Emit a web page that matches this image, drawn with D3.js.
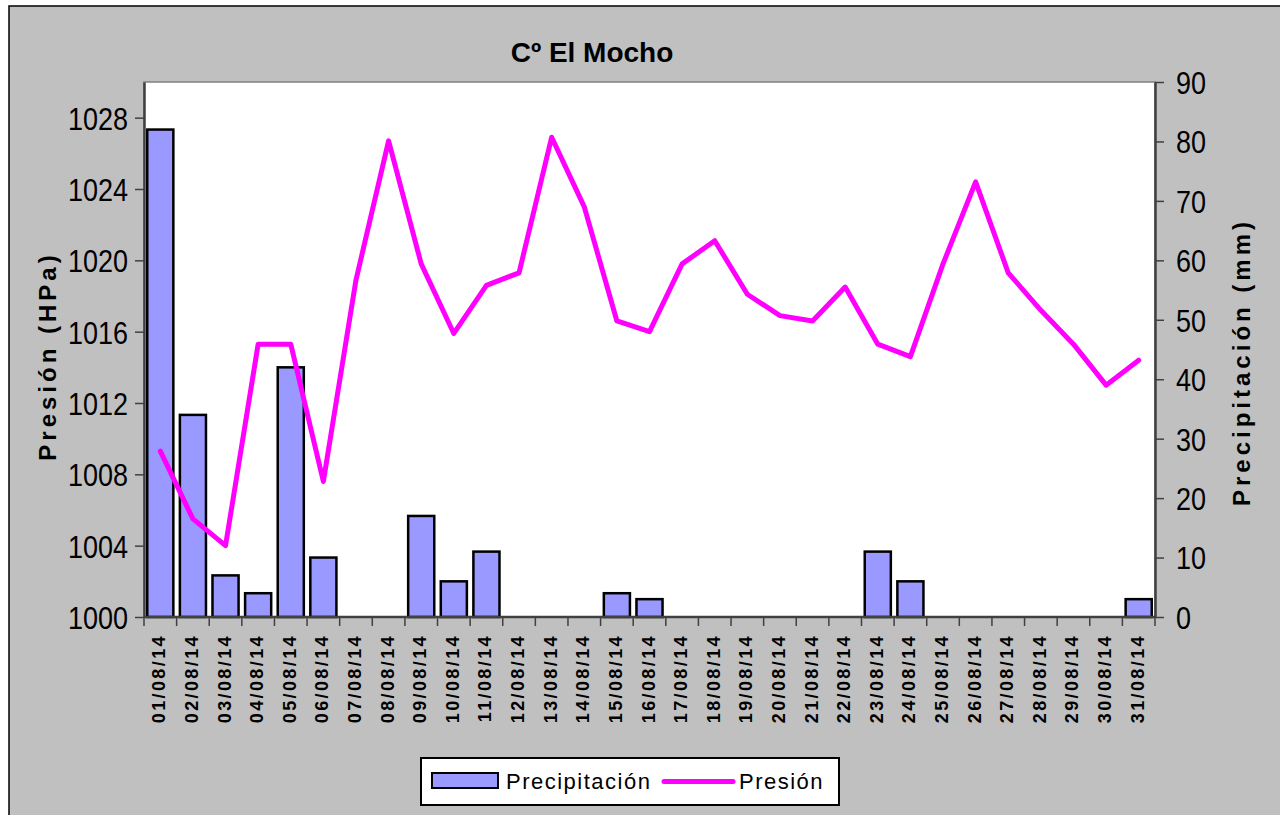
<!DOCTYPE html>
<html>
<head>
<meta charset="utf-8">
<script src="https://cdn.jsdelivr.net/npm/d3@7"></script>
<style>
  body { margin: 0; background: #fff; }
  svg text { font-family: "Liberation Sans", Arial, sans-serif; fill: #000; }
  .tick-label { font-size: 27px; }
  .axis-title { font-size: 24px; font-weight: bold; }
  .date-label { font-size: 18px; letter-spacing: 2.4px; font-weight: bold; }
  .legend-text { font-size: 22px; letter-spacing: 1.5px; }
</style>
</head>
<body>
<div id="chart"></div>
<script>
var dates = ["01/08/14","02/08/14","03/08/14","04/08/14","05/08/14","06/08/14","07/08/14","08/08/14",
  "09/08/14","10/08/14","11/08/14","12/08/14","13/08/14","14/08/14","15/08/14","16/08/14",
  "17/08/14","18/08/14","19/08/14","20/08/14","21/08/14","22/08/14","23/08/14","24/08/14",
  "25/08/14","26/08/14","27/08/14","28/08/14","29/08/14","30/08/14","31/08/14"];
var precipitacion = [82, 34, 7, 4, 42, 10, 0, 0, 17, 6, 11, 0, 0, 0, 4, 3,
  0, 0, 0, 0, 0, 0, 11, 6, 0, 0, 0, 0, 0, 0, 3];
var presion = [1009.3, 1005.5, 1004.0, 1015.3, 1015.3, 1007.6, 1018.9, 1026.7,
  1019.8, 1015.9, 1018.6, 1019.3, 1026.9, 1023.0, 1016.6, 1016.0,
  1019.8, 1021.1, 1018.1, 1016.9, 1016.6, 1018.5, 1015.3, 1014.6,
  1019.8, 1024.4, 1019.3, 1017.2, 1015.3, 1013.0, 1014.4];
var presionTicks = [1000, 1004, 1008, 1012, 1016, 1020, 1024, 1028];
var precipTicks = [0, 10, 20, 30, 40, 50, 60, 70, 80, 90];

var width = 1280, height = 815;
var plotLeft = 144, plotRight = 1155, plotTop = 82, plotBottom = 617;

var svg = d3.select("#chart").append("svg")
    .attr("width", width)
    .attr("height", height);

// chart background
svg.append("rect")
    .attr("x", 9).attr("y", 6)
    .attr("width", width).attr("height", height)
    .attr("fill", "#c0c0c0")
    .attr("stroke", "#000")
    .attr("stroke-width", 1.5);

// plot area
svg.append("rect")
    .attr("x", plotLeft).attr("y", plotTop)
    .attr("width", plotRight - plotLeft).attr("height", plotBottom - plotTop)
    .attr("fill", "#fff")
    .attr("stroke", "#808080")
    .attr("stroke-width", 1.5);

var x = d3.scaleBand().domain(dates).range([plotLeft, plotRight]);
var xBar = d3.scaleBand().domain(dates).range([plotLeft, plotRight])
    .paddingInner(0.2).paddingOuter(0.1);
var yLeft = d3.scaleLinear().domain([1000, 1030]).range([plotBottom, plotTop]);
var yRight = d3.scaleLinear().domain([0, 90]).range([plotBottom, plotTop]);

// bars
svg.append("g").selectAll("rect")
    .data(dates.filter(function(d, i) { return precipitacion[i] > 0; }))
    .join("rect")
    .attr("x", function(d) { return xBar(d); })
    .attr("y", function(d) { return yRight(precipitacion[dates.indexOf(d)]); })
    .attr("width", xBar.bandwidth())
    .attr("height", function(d) { return plotBottom - yRight(precipitacion[dates.indexOf(d)]); })
    .attr("fill", "#9999ff")
    .attr("stroke", "#000")
    .attr("stroke-width", 2.5);

// pressure line
var line = d3.line()
    .x(function(d, i) { return x(dates[i]) + x.bandwidth() / 2; })
    .y(function(d) { return yLeft(d); });

svg.append("path")
    .datum(presion)
    .attr("d", line)
    .attr("fill", "none")
    .attr("stroke", "#ff00ff")
    .attr("stroke-width", 5)
    .attr("stroke-linejoin", "round")
    .attr("stroke-linecap", "round");

// left axis
var leftAxis = svg.append("g")
    .attr("transform", "translate(" + plotLeft + ",0)")
    .call(d3.axisLeft(yLeft).tickValues(presionTicks).tickFormat(d3.format("d"))
      .tickSize(9).tickSizeOuter(0).tickPadding(7));
leftAxis.select(".domain").attr("stroke", "#404040").attr("stroke-width", 2.5);
leftAxis.selectAll(".tick line").attr("stroke", "#404040").attr("stroke-width", 1.5);
leftAxis.selectAll(".tick text").attr("class", "tick-label").attr("font-size", null).attr("font-family", null)
    .attr("dy", "0.36em").attr("transform", "scale(1,1.17)");

// right axis
var rightAxis = svg.append("g")
    .attr("transform", "translate(" + plotRight + ",0)")
    .call(d3.axisRight(yRight).tickValues(precipTicks).tickFormat(d3.format("d"))
      .tickSize(9).tickSizeOuter(0).tickPadding(12));
rightAxis.select(".domain").attr("stroke", "#404040").attr("stroke-width", 2.5);
rightAxis.selectAll(".tick line").attr("stroke", "#404040").attr("stroke-width", 1.5);
rightAxis.selectAll(".tick text").attr("class", "tick-label").attr("font-size", null).attr("font-family", null)
    .attr("dy", "0.36em").attr("transform", "scale(1,1.17)");

// bottom axis: ticks at category boundaries
var bottomAxis = svg.append("g").attr("transform", "translate(0," + plotBottom + ")");
bottomAxis.append("line")
    .attr("x1", plotLeft).attr("x2", plotRight)
    .attr("stroke", "#404040").attr("stroke-width", 2.5);
bottomAxis.selectAll(".btick")
    .data(dates.concat(["end"]))
    .join("line")
    .attr("class", "btick")
    .attr("x1", function(d) { return d === "end" ? plotRight : x(d); })
    .attr("x2", function(d) { return d === "end" ? plotRight : x(d); })
    .attr("y1", 0).attr("y2", 9)
    .attr("stroke", "#404040").attr("stroke-width", 1.5);
bottomAxis.selectAll(".date-label")
    .data(dates)
    .join("text")
    .attr("class", "date-label")
    .attr("text-anchor", "end")
    .attr("transform", function(d) {
      return "translate(" + (x(d) + x.bandwidth() / 2 + 5) + ",17) rotate(-90)";
    })
    .text(function(d) { return d; });

// titles
svg.append("text")
    .attr("x", 592).attr("y", 62)
    .attr("text-anchor", "middle")
    .attr("font-size", 28)
    .attr("font-weight", "bold")
    .text("Cº El Mocho");

svg.append("text")
    .attr("class", "axis-title")
    .attr("text-anchor", "middle")
    .attr("letter-spacing", 4)
    .attr("transform", "translate(56,356) rotate(-90)")
    .text("Presión (HPa)");

svg.append("text")
    .attr("class", "axis-title")
    .attr("text-anchor", "middle")
    .attr("transform", "translate(1250,362) rotate(-90)")
    .attr("letter-spacing", 4)
    .text("Precipitación (mm)");

// legend
var legend = svg.append("g");
legend.append("rect")
    .attr("x", 421).attr("y", 758)
    .attr("width", 418).attr("height", 47)
    .attr("fill", "#fff")
    .attr("stroke", "#000")
    .attr("stroke-width", 2);
legend.append("rect")
    .attr("x", 432).attr("y", 773)
    .attr("width", 66).attr("height", 15)
    .attr("fill", "#9999ff")
    .attr("stroke", "#000")
    .attr("stroke-width", 2);
legend.append("text")
    .attr("class", "legend-text")
    .attr("x", 506).attr("y", 789)
    .text("Precipitación");
legend.append("line")
    .attr("x1", 664).attr("x2", 733)
    .attr("y1", 781.5).attr("y2", 781.5)
    .attr("stroke", "#ff00ff")
    .attr("stroke-width", 5)
    .attr("stroke-linecap", "round");
legend.append("text")
    .attr("class", "legend-text")
    .attr("x", 739).attr("y", 789)
    .text("Presión");
</script>
</body>
</html>
